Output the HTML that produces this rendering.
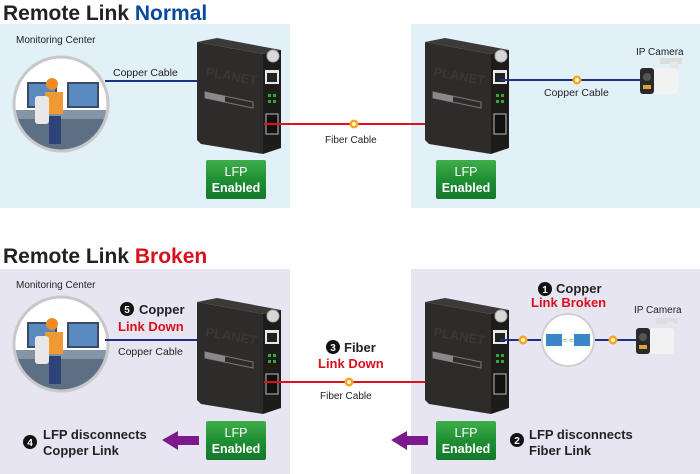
<!DOCTYPE html>
<html><head><meta charset="utf-8"><style>
html,body{margin:0;padding:0;background:#fff}
svg{display:block;font-family:"Liberation Sans",Arial,sans-serif}
</style></head><body>
<svg width="700" height="474" viewBox="0 0 700 474" xmlns="http://www.w3.org/2000/svg">
<defs>
<linearGradient id="lfp" x1="0" y1="0" x2="0" y2="1"><stop offset="0" stop-color="#3fae4a"/><stop offset="0.5" stop-color="#1f8f34"/><stop offset="1" stop-color="#12782a"/></linearGradient>
<clipPath id="cc"><circle cx="0" cy="0" r="46"/></clipPath>
<g id="dev">
  <polygon points="0,0 66,12 66,112 4,102 0,98" fill="#2e2c2b"/>
  <polygon points="0,0 66,12 84,8 20,-4" fill="#3c3a39"/>
  <polygon points="66,12 84,8 84,106 66,112" fill="#1e1c1b"/>
  <text x="8" y="34" font-size="13" font-weight="bold" fill="#3a3837" transform="rotate(10 8 34)">PLANET</text>
  <polygon points="8,50 56,60 56,66 8,56" fill="none" stroke="#7a7878" stroke-width="1"/>
  <polygon points="8,50 28,54 28,60 8,56" fill="#8a8888"/>
  <circle cx="76" cy="14" r="6" fill="#d8d8d8" stroke="#aaa"/>
  <rect x="68" y="28" width="14" height="14" fill="#e8e8e8"/><rect x="70" y="31" width="10" height="9" fill="#222"/>
  <rect x="71" y="52" width="3" height="3" fill="#3a3"/><rect x="76" y="52" width="3" height="3" fill="#3a3"/>
  <rect x="71" y="58" width="3" height="3" fill="#3a3"/><rect x="76" y="58" width="3" height="3" fill="#3a3"/>
  <rect x="69" y="72" width="12" height="20" fill="#111" stroke="#bbb" stroke-width="1"/>
</g>
<g id="mon">
  <circle cx="0" cy="0" r="47" fill="#fff"/>
  <g clip-path="url(#cc)">
  <rect x="-47" y="14" width="94" height="34" fill="#5c6f85"/>
  <rect x="-34" y="-22" width="30" height="26" fill="#3a4a66"/><rect x="-32" y="-20" width="26" height="22" fill="#5b8ac0"/>
  <rect x="6" y="-22" width="32" height="26" fill="#3a4a66"/><rect x="8" y="-20" width="28" height="22" fill="#5b8ac0"/>
  <rect x="-47" y="6" width="94" height="9" fill="#8595a8"/>
  <circle cx="-9" cy="-20" r="6" fill="#f08a24"/>
  <rect x="-16" y="-12" width="18" height="22" fill="#f09a34"/>
  <rect x="-26" y="-8" width="14" height="28" rx="3" fill="#e8e8e8"/>
  <rect x="-12" y="12" width="12" height="28" fill="#2d4378"/>
  </g>
  <circle cx="0" cy="0" r="47" fill="none" stroke="#c8c8c8" stroke-width="3"/>
</g>
<g id="cam">
  <rect x="20" y="-22" width="22" height="6" fill="#ddd"/><rect x="30" y="-18" width="8" height="18" fill="#e6e6e6"/>
  <rect x="0" y="-12" width="38" height="26" rx="3" fill="#f2f2f2"/>
  <rect x="0" y="-12" width="14" height="26" rx="3" fill="#2a2a2a"/>
  <circle cx="7" cy="-3" r="4" fill="#555"/><rect x="3" y="5" width="8" height="4" fill="#d9a53a"/>
</g>
<g id="poe"><circle r="4.5" fill="#f5a623"/><circle r="2" fill="#fff6d0"/></g>
</defs>

<!-- TOP -->
<text x="3" y="20" font-size="21" font-weight="bold" fill="#222">Remote Link <tspan fill="#0a4a9a">Normal</tspan></text>
<rect x="0" y="24" width="290" height="184" fill="#e2f0f7"/>
<rect x="411" y="24" width="289" height="184" fill="#e2f0f7"/>
<text x="16" y="43" font-size="10" fill="#222">Monitoring Center</text>
<use href="#mon" x="61" y="104"/>
<line x1="105" y1="81" x2="272" y2="81" stroke="#1a2f86" stroke-width="2"/>
<text x="113" y="76" font-size="10.5" fill="#222">Copper Cable</text>
<use href="#dev" x="197" y="42"/>
<line x1="264" y1="124" x2="500" y2="124" stroke="#e0101c" stroke-width="2"/>
<use href="#poe" x="354" y="124"/>
<text x="325" y="143" font-size="10" fill="#222">Fiber Cable</text>
<use href="#dev" x="425" y="42"/>
<line x1="500" y1="80" x2="640" y2="80" stroke="#1a2f86" stroke-width="2"/>
<use href="#poe" x="577" y="80"/>
<text x="544" y="96" font-size="10.5" fill="#222">Copper Cable</text>
<text x="636" y="55" font-size="10" fill="#222">IP Camera</text>
<use href="#cam" x="640" y="80"/>
<rect x="206" y="160" width="60" height="39" rx="2" fill="url(#lfp)"/>
<text x="236" y="176" font-size="12.5" fill="#fff" text-anchor="middle">LFP</text>
<text x="236" y="192" font-size="12.5" font-weight="bold" fill="#fff" text-anchor="middle">Enabled</text>
<rect x="436" y="160" width="60" height="39" rx="2" fill="url(#lfp)"/>
<text x="466" y="176" font-size="12.5" fill="#fff" text-anchor="middle">LFP</text>
<text x="466" y="192" font-size="12.5" font-weight="bold" fill="#fff" text-anchor="middle">Enabled</text>

<!-- BOTTOM -->
<text x="3" y="263" font-size="21" font-weight="bold" fill="#222">Remote Link <tspan fill="#d8101c">Broken</tspan></text>
<rect x="0" y="269" width="290" height="205" fill="#e7e5f1"/>
<rect x="411" y="269" width="289" height="205" fill="#e7e5f1"/>
<text x="16" y="288" font-size="10" fill="#222">Monitoring Center</text>
<use href="#mon" x="61" y="344"/>
<line x1="105" y1="340" x2="272" y2="340" stroke="#1a2f86" stroke-width="2"/>
<circle cx="127" cy="309" r="7" fill="#111"/><text x="127" y="313" font-size="10" font-weight="bold" fill="#fff" text-anchor="middle">5</text>
<text x="139" y="314" font-size="13" font-weight="bold" fill="#222">Copper</text>
<text x="118" y="331" font-size="13" font-weight="bold" fill="#d8101c">Link Down</text>
<text x="118" y="355" font-size="10.5" fill="#222">Copper Cable</text>
<use href="#dev" x="197" y="302"/>
<line x1="264" y1="382" x2="500" y2="382" stroke="#e0101c" stroke-width="2"/>
<use href="#poe" x="349" y="382"/>
<circle cx="333" cy="347" r="7" fill="#111"/><text x="333" y="351" font-size="10" font-weight="bold" fill="#fff" text-anchor="middle">3</text>
<text x="344" y="352" font-size="13" font-weight="bold" fill="#222">Fiber</text>
<text x="318" y="368" font-size="13" font-weight="bold" fill="#d8101c">Link Down</text>
<text x="320" y="399" font-size="10" fill="#222">Fiber Cable</text>
<use href="#dev" x="425" y="302"/>
<line x1="500" y1="340" x2="640" y2="340" stroke="#1a2f86" stroke-width="2"/>
<use href="#poe" x="523" y="340"/><use href="#poe" x="613" y="340"/>
<circle cx="568" cy="340" r="26" fill="#fff" stroke="#d0d0d0" stroke-width="2"/>
<rect x="546" y="334" width="16" height="12" fill="#3a86c8"/><rect x="574" y="334" width="16" height="12" fill="#3a86c8"/>
<text x="568" y="343" font-size="8" fill="#4a4" text-anchor="middle">≈ ≈</text>
<circle cx="545" cy="289" r="7" fill="#111"/><text x="545" y="293" font-size="10" font-weight="bold" fill="#fff" text-anchor="middle">1</text>
<text x="556" y="293" font-size="13" font-weight="bold" fill="#222">Copper</text>
<text x="531" y="307" font-size="13" font-weight="bold" fill="#d8101c">Link Broken</text>
<text x="634" y="313" font-size="10" fill="#222">IP Camera</text>
<use href="#cam" x="636" y="340"/>
<rect x="206" y="421" width="60" height="39" rx="2" fill="url(#lfp)"/>
<text x="236" y="437" font-size="12.5" fill="#fff" text-anchor="middle">LFP</text>
<text x="236" y="453" font-size="12.5" font-weight="bold" fill="#fff" text-anchor="middle">Enabled</text>
<rect x="436" y="421" width="60" height="39" rx="2" fill="url(#lfp)"/>
<text x="466" y="437" font-size="12.5" fill="#fff" text-anchor="middle">LFP</text>
<text x="466" y="453" font-size="12.5" font-weight="bold" fill="#fff" text-anchor="middle">Enabled</text>
<polygon points="162,440 178,431 178,436 199,436 199,445 178,445 178,450" fill="#7a1a8c"/>
<polygon points="391,440 407,431 407,436 428,436 428,445 407,445 407,450" fill="#7a1a8c"/>
<circle cx="30" cy="442" r="7" fill="#111"/><text x="30" y="446" font-size="10" font-weight="bold" fill="#fff" text-anchor="middle">4</text>
<text x="43" y="439" font-size="13" font-weight="bold" fill="#222">LFP disconnects</text>
<text x="43" y="455" font-size="13" font-weight="bold" fill="#222">Copper Link</text>
<circle cx="517" cy="440" r="7" fill="#111"/><text x="517" y="444" font-size="10" font-weight="bold" fill="#fff" text-anchor="middle">2</text>
<text x="529" y="439" font-size="13" font-weight="bold" fill="#222">LFP disconnects</text>
<text x="529" y="455" font-size="13" font-weight="bold" fill="#222">Fiber Link</text>
</svg>
</body></html>
